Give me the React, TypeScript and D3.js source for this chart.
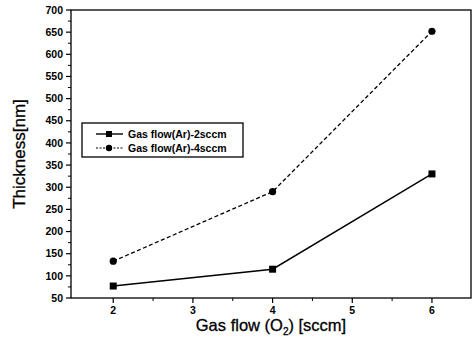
import React from "react";
import * as d3 from "d3";

const gasO2 = [2, 4, 6];
const ar2 = [77, 115, 330];
const ar4 = [133, 290, 652];
const seriesNames = ["Gas flow(Ar)-2sccm", "Gas flow(Ar)-4sccm"];
const yTicks = [50, 100, 150, 200, 250, 300, 350, 400, 450, 500, 550, 600, 650, 700];
const xTicks = [2, 3, 4, 5, 6];

const W = 474, H = 348;
const L = 71, R = 471, T = 10, B = 298;

export default function App() {
  const x = d3.scaleLinear().domain([1.47, 6.49]).range([L, R]);
  const y = d3.scaleLinear().domain([50, 700]).range([B, T]);
  const line = d3.line<number>().x((_, i) => x(gasO2[i])).y((v) => y(v));
  const yMinor = d3.range(75, 700, 50);
  const xMinor = [2.5, 3.5, 4.5, 5.5];
  const font = "Arial, 'Liberation Sans', Helvetica, sans-serif";
  return (
    <svg width={W} height={H} style={{ position: "absolute", left: 0, top: 0, background: "#fff" }} fontFamily={font} fill="#000">
      <rect x={L} y={T} width={R - L} height={B - T} fill="none" stroke="#000" strokeWidth={1.3} />
      {yTicks.map((t) => (
        <g key={"y" + t}>
          <line x1={L - 5} x2={L} y1={y(t)} y2={y(t)} stroke="#000" strokeWidth={1.2} />
          <text x={L - 8} y={y(t)} dy="0.35em" textAnchor="end" fontSize={10.5} fontWeight="bold" fill="#000">{t}</text>
        </g>
      ))}
      {yMinor.map((t) => (
        <line key={"ym" + t} x1={L - 3} x2={L} y1={y(t)} y2={y(t)} stroke="#000" strokeWidth={1} />
      ))}
      {xTicks.map((t) => (
        <g key={"x" + t}>
          <line x1={x(t)} x2={x(t)} y1={B} y2={B + 5} stroke="#000" strokeWidth={1.2} />
          <text x={x(t)} y={B + 16} textAnchor="middle" fontSize={10.5} fontWeight="bold" fill="#000">{t}</text>
        </g>
      ))}
      {xMinor.map((t) => (
        <line key={"xm" + t} x1={x(t)} x2={x(t)} y1={B} y2={B + 3} stroke="#000" strokeWidth={1} />
      ))}
      <path d={line(ar2) || ""} fill="none" stroke="#000" strokeWidth={1.4} />
      <path d={line(ar4) || ""} fill="none" stroke="#000" strokeWidth={1.3} strokeDasharray="4,2.5" />
      {ar2.map((v, i) => (
        <rect key={"s" + i} x={x(gasO2[i]) - 3.5} y={y(v) - 3.5} width={7} height={7} fill="#000" />
      ))}
      {ar4.map((v, i) => (
        <circle key={"c" + i} cx={x(gasO2[i])} cy={y(v)} r={3.6} fill="#000" />
      ))}
      <g>
        <rect x={82} y={123} width={161} height={34} fill="#fff" stroke="#000" strokeWidth={1.3} />
        <line x1={96} x2={123} y1={134} y2={134} stroke="#000" strokeWidth={1.4} />
        <rect x={106} y={131} width={6} height={6} fill="#000" />
        <text x={128} y={134} dy="0.35em" fontSize={10.5} fontWeight="bold" fill="#000">{seriesNames[0]}</text>
        <line x1={96} x2={123} y1={148} y2={148} stroke="#000" strokeWidth={1.2} strokeDasharray="2,1.5" />
        <circle cx={109} cy={148} r={3.2} fill="#000" />
        <text x={128} y={148} dy="0.35em" fontSize={10.5} fontWeight="bold" fill="#000">{seriesNames[1]}</text>
      </g>
      <text x={(L + R) / 2} y={331} textAnchor="middle" fontSize={16.5} fill="#000" stroke="#000" strokeWidth={0.3}>
        Gas flow (O<tspan fontSize={10} dy={4}>2</tspan><tspan dy={-4}>) [sccm]</tspan>
      </text>
      <text transform={`translate(25,${(T + B) / 2}) rotate(-90)`} textAnchor="middle" fontSize={17} fill="#000" stroke="#000" strokeWidth={0.3}>Thickness[nm]</text>
    </svg>
  );
}
